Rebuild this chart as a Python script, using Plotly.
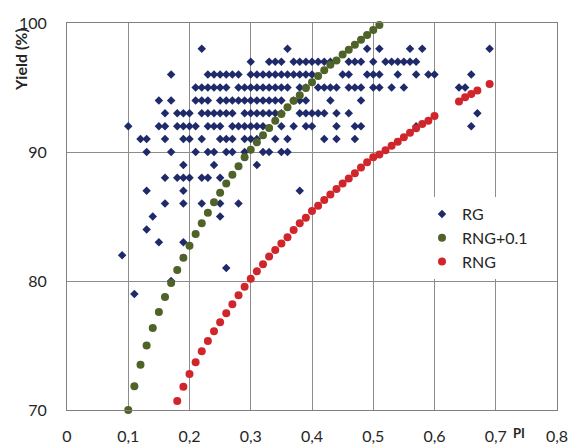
import plotly.graph_objects as go

# ---------------- data ----------------
# RG: measured points, grouped by yield row (%)
rg_98 = [0.22, 0.36, 0.49, 0.51, 0.56, 0.58, 0.69]
rg_97 = [0.30, 0.33, 0.34, 0.35, 0.37, 0.38, 0.39, 0.40, 0.41, 0.42, 0.43, 0.46, 0.47, 0.48,
         0.50, 0.52, 0.53, 0.54, 0.55, 0.56, 0.57]
rg_96 = [0.17, 0.23, 0.24, 0.25, 0.26, 0.27, 0.28, 0.30, 0.31, 0.32, 0.33, 0.34, 0.35, 0.36,
         0.37, 0.38, 0.39, 0.40, 0.45, 0.46, 0.49, 0.50, 0.51, 0.54, 0.57, 0.59, 0.60, 0.66]
rg_95 = [0.21, 0.22, 0.23, 0.24, 0.25, 0.26, 0.28, 0.29, 0.30, 0.31, 0.32, 0.33, 0.34, 0.35,
         0.36, 0.38, 0.39, 0.41, 0.42, 0.43, 0.44, 0.46, 0.47, 0.48, 0.50, 0.51, 0.53, 0.55,
         0.64, 0.65]
rg_94 = [0.15, 0.17, 0.21, 0.22, 0.23, 0.25, 0.26, 0.27, 0.28, 0.29, 0.30, 0.31, 0.32, 0.33,
         0.34, 0.35, 0.37, 0.38, 0.39, 0.43, 0.48]
rg_93 = [0.16, 0.18, 0.19, 0.20, 0.22, 0.23, 0.24, 0.25, 0.26, 0.27, 0.29, 0.30, 0.31, 0.32,
         0.33, 0.34, 0.35, 0.38, 0.39, 0.40, 0.41, 0.42, 0.44, 0.46, 0.67]
rg_92 = [0.10, 0.15, 0.16, 0.18, 0.19, 0.20, 0.21, 0.23, 0.24, 0.25, 0.27, 0.28, 0.29, 0.30,
         0.31, 0.32, 0.35, 0.37, 0.39, 0.40, 0.44, 0.47, 0.48, 0.57, 0.66]
rg_91 = [0.12, 0.13, 0.16, 0.19, 0.20, 0.22, 0.25, 0.26, 0.27, 0.29, 0.30, 0.31, 0.34, 0.36,
         0.42, 0.44, 0.47]
rg_90 = [0.13, 0.17, 0.21, 0.23, 0.24, 0.26, 0.27, 0.29, 0.32, 0.33, 0.35, 0.36]
rg_89 = [0.19, 0.24, 0.31]
rg_88 = [0.16, 0.18, 0.19, 0.20, 0.22, 0.23, 0.25]
rg_87 = [0.13, 0.19, 0.38]
rg_86 = [0.16, 0.19, 0.22, 0.25, 0.28]
rg_85 = [0.14, 0.25]
rg_84 = [0.13]
rg_83 = [0.15, 0.19]
rg_82 = [0.09]
rg_81 = [0.26]
rg_80 = [0.17]
rg_79 = [0.11]

rg_rows = [(98, rg_98), (97, rg_97), (96, rg_96), (95, rg_95), (94, rg_94), (93, rg_93),
           (92, rg_92), (91, rg_91), (90, rg_90), (89, rg_89), (88, rg_88), (87, rg_87),
           (86, rg_86), (85, rg_85), (84, rg_84), (83, rg_83), (82, rg_82), (81, rg_81),
           (80, rg_80), (79, rg_79)]

# RNG+0.1 model curve
rng01_x = [0.10, 0.11, 0.12, 0.13, 0.14, 0.15, 0.16, 0.17, 0.18, 0.19, 0.20, 0.21, 0.22, 0.23,
           0.24, 0.25, 0.26, 0.27, 0.28, 0.29, 0.30, 0.31, 0.32, 0.33, 0.34, 0.35, 0.36, 0.37,
           0.38, 0.39, 0.40, 0.41, 0.42, 0.43, 0.44, 0.45, 0.46, 0.47, 0.48, 0.49, 0.50, 0.51]
rng01_y = [70.0, 71.85, 73.5, 75.0, 76.35, 77.6, 78.76, 79.84, 80.85, 81.8, 82.74, 83.65, 84.47,
           85.3, 86.1, 86.85, 87.55, 88.24, 88.9, 89.6, 90.17, 90.75, 91.3, 91.86, 92.43, 92.95,
           93.46, 93.98, 94.4, 94.96, 95.4, 95.9, 96.33, 96.77, 97.1, 97.55, 97.93, 98.32, 98.7,
           99.07, 99.46, 99.85]

# RNG model curve
rng_x = [0.18, 0.19, 0.20, 0.21, 0.22, 0.23, 0.24, 0.25, 0.26, 0.27, 0.28, 0.29, 0.30, 0.31,
         0.32, 0.33, 0.34, 0.35, 0.36, 0.37, 0.38, 0.39, 0.40, 0.41, 0.42, 0.43, 0.44, 0.45,
         0.46, 0.47, 0.48, 0.49, 0.50, 0.51, 0.52, 0.53, 0.54, 0.55, 0.56, 0.57, 0.58, 0.59,
         0.60, 0.64, 0.65, 0.66, 0.67, 0.69]
rng_y = [70.7, 71.8, 72.8, 73.7, 74.55, 75.35, 76.1, 76.8, 77.5, 78.2, 78.9, 79.56, 80.18, 80.75,
         81.3, 81.9, 82.4, 82.9, 83.4, 83.95, 84.47, 84.9, 85.43, 85.84, 86.28, 86.7, 87.13,
         87.55, 87.95, 88.35, 88.8, 89.2, 89.6, 89.8, 90.13, 90.48, 90.8, 91.15, 91.5, 91.84,
         92.17, 92.43, 92.8, 93.92, 94.25, 94.5, 94.77, 95.28]

x_tickvals = [0, 0.1, 0.2, 0.3, 0.4, 0.5, 0.6, 0.7, 0.8]
x_ticktext = ["0", "0,1", "0,2", "0,3", "0,4", "0,5", "0,6", "0,7", "0,8"]
y_tickvals = [70, 80, 90, 100]
y_ticktext = ["70", "80", "90", "100"]

# ---------------- figure ----------------
rg_x, rg_y = [], []
for yv, xs in rg_rows:
    rg_x += xs
    rg_y += [yv] * len(xs)

FONT = "Lato, 'Open Sans', sans-serif"
NAVY = "#1f2a6b"
GREEN = "#4f6228"
RED = "#d0262b"
GRID = "#8c8c8c"
TXT = "#262626"

fig = go.Figure()
fig.add_trace(go.Scatter(x=rg_x, y=rg_y, mode="markers", name="RG",
                         marker=dict(symbol="diamond", size=6.5, color=NAVY), cliponaxis=False))
fig.add_trace(go.Scatter(x=rng01_x, y=rng01_y, mode="markers", name="RNG+0.1",
                         marker=dict(symbol="circle", size=8, color=GREEN), cliponaxis=False))
fig.add_trace(go.Scatter(x=rng_x, y=rng_y, mode="markers", name="RNG",
                         marker=dict(symbol="circle", size=8, color=RED), cliponaxis=False))

L, R, T, B = 67, 15, 23, 34
W, H = 572, 444
pw, ph = W - L - R, H - T - B

fig.update_layout(
    width=W, height=H,
    margin=dict(l=L, r=R, t=T, b=B, pad=0, autoexpand=False),
    paper_bgcolor="white", plot_bgcolor="white",
    font=dict(family=FONT, size=16, color=TXT),
    showlegend=True,
    legend=dict(x=(422 - L) / pw, y=(410 - 197) / ph, xanchor="left", yanchor="top",
                bgcolor="white", borderwidth=0, font=dict(size=16, color=TXT),
                itemwidth=30, tracegroupgap=0),
    xaxis=dict(range=[0, 0.8], tickvals=x_tickvals, ticktext=x_ticktext,
               showgrid=True, gridcolor=GRID, gridwidth=1, zeroline=False,
               showline=True, linecolor="#7f7f7f", linewidth=1, mirror=True,
               ticks="", ticklabelstandoff=12, fixedrange=True, automargin=False),
    yaxis=dict(range=[70, 100], tickvals=y_tickvals, ticktext=y_ticktext,
               showgrid=True, gridcolor=GRID, gridwidth=1, zeroline=False,
               showline=True, linecolor="#7f7f7f", linewidth=1, mirror=True,
               ticks="", ticklabelstandoff=16, fixedrange=True, automargin=False),
)

fig.add_annotation(text="<b>Yield (%)</b>", xref="paper", yref="paper",
                   x=(20 - L) / pw, y=(410 - 60) / ph, textangle=-90,
                   showarrow=False, xanchor="center", yanchor="middle",
                   font=dict(family=FONT, size=16, color=TXT))
fig.add_annotation(text="<b>PI</b>", xref="paper", yref="paper",
                   x=(519 - L) / pw, y=(410 - 443) / ph,
                   showarrow=False, xanchor="center", yanchor="bottom",
                   font=dict(family=FONT, size=13, color=TXT))

fig.write_html("out.html")
